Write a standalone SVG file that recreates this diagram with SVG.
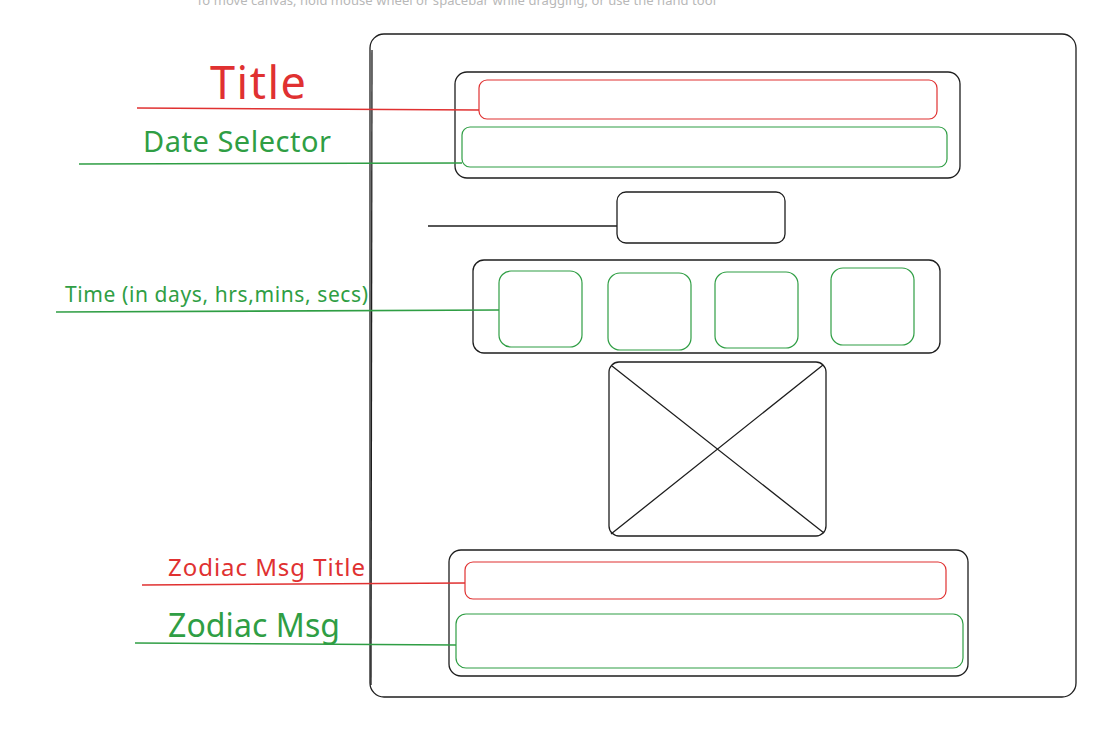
<svg xmlns="http://www.w3.org/2000/svg" width="1118" height="737" viewBox="0 0 1118 737">
  <style>
    .box { fill: none; stroke: #1e1e1e; stroke-width: 1.3; }
    .red { fill: none; stroke: #e03131; stroke-width: 1.2; }
    .green { fill: none; stroke: #2f9e44; stroke-width: 1.2; }
    .lred { stroke: #e03131; stroke-width: 1.6; fill: none; }
    .lgreen { stroke: #2f9e44; stroke-width: 1.6; fill: none; }
    .lblack { stroke: #1e1e1e; stroke-width: 1.4; fill: none; }
    .t { font-family: "Noto Sans", "Open Sans", sans-serif; }
    .tr { fill: #e03131; }
    .tg { fill: #2f9e44; }
  </style>
  <rect width="1118" height="737" fill="#ffffff"/>

  <!-- canvas hint -->
  <text class="t" x="456" y="5" font-size="13" fill="#b8b8b8" text-anchor="middle" textLength="520">To move canvas, hold mouse wheel or spacebar while dragging, or use the hand tool</text>

  <!-- page frame -->
  <g id="frame">
    <rect class="box" x="370" y="34" width="706" height="663" rx="14"/>
    <path class="box" d="M372 50 L371 685" stroke-width="0.8"/>
  </g>

  <!-- header block -->
  <g id="header">
    <rect class="box" x="455" y="72" width="505" height="106" rx="12"/>
    <rect id="title-field" class="red" x="479" y="80" width="458" height="39" rx="8"/>
    <rect id="date-field" class="green" x="462" y="127" width="485" height="40" rx="8"/>
  </g>

  <g id="button">
    <rect class="box" x="617" y="192" width="168" height="51" rx="9"/>
  </g>

  <!-- countdown -->
  <g id="timer">
    <rect class="box" x="473" y="260" width="467" height="93" rx="11"/>
    <rect class="green" x="499" y="271" width="83" height="76" rx="12"/>
    <rect class="green" x="608" y="273" width="83" height="77" rx="12"/>
    <rect class="green" x="715" y="272" width="83" height="76" rx="12"/>
    <rect class="green" x="831" y="268" width="83" height="77" rx="12"/>
  </g>

  <!-- image placeholder -->
  <g id="image">
    <rect class="box" x="609" y="362" width="217" height="174" rx="10"/>
    <path class="box" d="M612 366 L824 533 M823 365 L611 534"/>
  </g>

  <!-- zodiac message block -->
  <g id="zodiac">
    <rect class="box" x="449" y="550" width="519" height="126" rx="12"/>
    <rect id="zodiac-title-field" class="red" x="465" y="562" width="481" height="37" rx="8"/>
    <rect id="zodiac-msg-field" class="green" x="456" y="614" width="507" height="54" rx="10"/>
  </g>

  <!-- labels -->
  <g id="labels">
    <text class="t tr" x="210" y="99" font-size="45" textLength="96">Title</text>
    <text class="t tg" x="143" y="152" font-size="29" textLength="188">Date Selector</text>
    <text class="t tg" x="65" y="302" font-size="21" textLength="303">Time (in days, hrs,mins, secs)</text>
    <text class="t tr" x="168" y="576" font-size="24" textLength="197">Zodiac Msg Title</text>
    <text class="t tg" x="168" y="637" font-size="32" textLength="172">Zodiac Msg</text>
  </g>

  <!-- leader lines -->
  <g id="connectors">
    <path class="lred" d="M137 108 L479 110"/>
    <path class="lgreen" d="M79 164 L462 163"/>
    <path class="lblack" d="M428 226 L617 226"/>
    <path class="lgreen" d="M56 312 L499 310"/>
    <path class="lred" d="M142 585 L465 583"/>
    <path class="lgreen" d="M135 643 L456 645"/>
  </g>
</svg>
